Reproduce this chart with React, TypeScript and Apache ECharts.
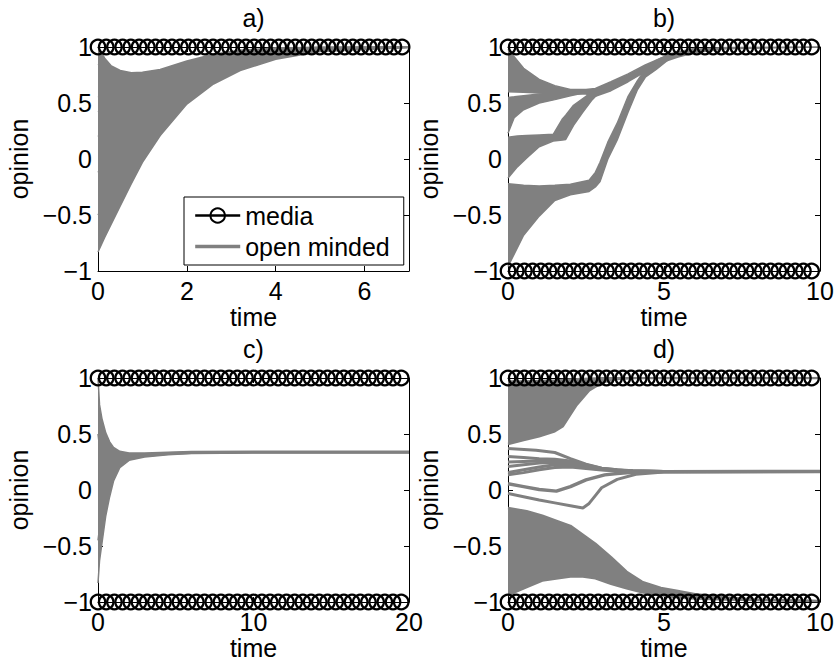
import React, { useEffect, useRef } from 'react';
import * as echarts from 'echarts';

const FONT = '"Liberation Sans", Arial, Helvetica, sans-serif';
const GRAY = '#808080';
const FS = 25;

// ---------- media sample times (circles) ----------
const mediaTimesA = [0, 0.185, 0.37, 0.555, 0.74, 0.925, 1.11, 1.295, 1.48, 1.665, 1.85, 2.035, 2.22, 2.405, 2.59, 2.775, 2.96, 3.145, 3.33, 3.515, 3.7, 3.885, 4.07, 4.255, 4.44, 4.625, 4.81, 4.995, 5.18, 5.365, 5.55, 5.735, 5.92, 6.105, 6.29, 6.475, 6.66, 6.845];
const mediaTimesB = [0, 0.263, 0.526, 0.789, 1.052, 1.315, 1.578, 1.841, 2.104, 2.367, 2.63, 2.893, 3.156, 3.419, 3.682, 3.945, 4.208, 4.471, 4.734, 4.997, 5.26, 5.523, 5.786, 6.049, 6.312, 6.575, 6.838, 7.101, 7.364, 7.627, 7.89, 8.153, 8.416, 8.679, 8.942, 9.205, 9.468, 9.731];
const mediaTimesC = [0, 0.527, 1.054, 1.581, 2.108, 2.635, 3.162, 3.689, 4.216, 4.743, 5.27, 5.797, 6.324, 6.851, 7.378, 7.905, 8.432, 8.959, 9.486, 10.013, 10.54, 11.067, 11.594, 12.121, 12.648, 13.175, 13.702, 14.229, 14.756, 15.283, 15.81, 16.337, 16.864, 17.391, 17.918, 18.445, 18.972, 19.499];
const mediaPlus = 1;
const mediaMinus = -1;

// ---------- panel a ----------
const aT = [0, 0.15, 0.3, 0.5, 0.75, 1, 1.4, 2, 2.6, 3.2, 4, 5, 7];
const aHi = [1.0, 0.9, 0.83, 0.79, 0.77, 0.775, 0.8, 0.875, 0.935, 0.97, 0.99, 0.998, 1.0];
const aLo = [-0.83, -0.7, -0.58, -0.42, -0.22, -0.03, 0.21, 0.49, 0.67, 0.79, 0.89, 0.96, 0.995];
const a085 = [0.85, 0.8, 0.77, 0.755, 0.75, 0.76, 0.79, 0.867, 0.93, 0.966, 0.988, 0.997, 1.0];
const a070 = [0.7, 0.7, 0.7, 0.71, 0.72, 0.735, 0.77, 0.856, 0.92, 0.961, 0.985, 0.996, 1.0];
const a055 = [0.55, 0.58, 0.61, 0.64, 0.66, 0.686, 0.735, 0.833, 0.906, 0.95, 0.979, 0.994, 1.0];
const a042 = [0.42, 0.46, 0.5, 0.54, 0.58, 0.62, 0.69, 0.8, 0.885, 0.936, 0.971, 0.991, 1.0];
const a020 = [0.2, 0.26, 0.32, 0.38, 0.44, 0.51, 0.605, 0.748, 0.848, 0.91, 0.957, 0.985, 0.998];
const aM012 = [-0.12, -0.03, 0.05, 0.14, 0.235, 0.34, 0.48, 0.667, 0.792, 0.873, 0.936, 0.977, 0.997];
const aM050 = [-0.5, -0.38, -0.27, -0.15, 0.008, 0.155, 0.345, 0.579, 0.731, 0.831, 0.913, 0.969, 0.996];

// ---------- panel b ----------
const bG1T = [0, 0.5, 1, 1.5, 2, 2.5, 2.8, 3.3, 3.85, 4.4, 4.9, 5.45, 6, 7, 10];
const bG1Hi = [0.98, 0.81, 0.71, 0.655, 0.62, 0.62, 0.63, 0.69, 0.76, 0.84, 0.9, 0.95, 0.98, 0.995, 1.0];
const bG1Lo = [0.6, 0.595, 0.59, 0.585, 0.58, 0.58, 0.56, 0.61, 0.69, 0.78, 0.86, 0.91, 0.95, 0.985, 1.0];
const bG2T = [0, 0.2, 0.5, 1, 1.5, 2, 2.6];
const bG2Hi = [0.55, 0.555, 0.565, 0.58, 0.59, 0.595, 0.61];
const bG2Lo = [0.23, 0.37, 0.44, 0.5, 0.53, 0.565, 0.6];
const bG3T = [0, 0.3, 0.6, 1, 1.45, 1.75, 1.85, 2.1, 2.4, 2.7, 2.95];
const bG3Hi = [0.195, 0.205, 0.21, 0.215, 0.22, 0.36, 0.39, 0.48, 0.54, 0.6, 0.62];
const bG3Lo = [-0.17, -0.07, 0.01, 0.11, 0.16, 0.17, 0.175, 0.3, 0.42, 0.53, 0.6];
const bG4T = [0, 0.5, 1, 1.5, 2, 2.6, 2.8, 2.95, 3.2, 3.5, 3.85, 4.15, 4.4, 4.75, 5.2, 6];
const bG4Hi = [-0.22, -0.235, -0.24, -0.235, -0.225, -0.19, -0.12, -0.03, 0.15, 0.32, 0.56, 0.7, 0.8, 0.88, 0.94, 0.99];
const bG4Lo = [-0.96, -0.68, -0.51, -0.37, -0.32, -0.29, -0.25, -0.2, 0.0, 0.17, 0.42, 0.62, 0.73, 0.8, 0.9, 0.98];

// ---------- panel c ----------
const cT = [0, 0.1, 0.25, 0.5, 0.75, 1, 1.4, 2, 3, 4.5, 6, 10, 20];
const cHi = [1.0, 0.76, 0.64, 0.51, 0.43, 0.38, 0.345, 0.33, 0.33, 0.338, 0.343, 0.345, 0.345];
const cLo = [-0.83, -0.63, -0.48, -0.23, -0.06, 0.08, 0.2, 0.265, 0.295, 0.315, 0.325, 0.33, 0.33];
const c050 = [0.5, 0.381, 0.334, 0.308, 0.296, 0.298, 0.305, 0.312, 0.32, 0.332, 0.338, 0.341, 0.341];
const c000 = [0.0, 0.001, 0.028, 0.106, 0.162, 0.216, 0.266, 0.295, 0.311, 0.325, 0.333, 0.337, 0.337];
const cM045 = [-0.45, -0.341, -0.247, -0.076, 0.042, 0.142, 0.23, 0.279, 0.302, 0.32, 0.329, 0.333, 0.333];

// ---------- panel d ----------
const dTopT = [0, 0.5, 1, 1.5, 1.76, 2.2, 2.6, 3.05, 3.5, 4, 10];
const dTopHi = [0.97, 0.97, 0.975, 0.98, 0.985, 0.99, 0.995, 1.0, 1.0, 1.0, 1.0];
const dTopLo = [0.41, 0.445, 0.48, 0.525, 0.57, 0.76, 0.89, 0.965, 0.99, 1.0, 1.0];
const dM1T = [0, 0.9, 1.5, 2.0, 2.5, 3.0, 3.8, 5, 10];
const dM1 = [0.37, 0.355, 0.335, 0.28, 0.23, 0.195, 0.172, 0.166, 0.165];
const dBT = [0, 0.5, 1, 1.5, 2, 2.5, 3, 3.5, 4, 5, 10];
const dB1 = [0.3, 0.29, 0.28, 0.275, 0.26, 0.225, 0.195, 0.18, 0.172, 0.166, 0.165];
const dB2 = [0.25, 0.255, 0.26, 0.26, 0.245, 0.215, 0.19, 0.177, 0.17, 0.166, 0.165];
const dB3 = [0.21, 0.225, 0.24, 0.245, 0.235, 0.21, 0.186, 0.175, 0.169, 0.166, 0.165];
const dB4 = [0.155, 0.18, 0.205, 0.225, 0.22, 0.2, 0.182, 0.173, 0.168, 0.165, 0.165];
const dB5 = [0.135, 0.155, 0.18, 0.2, 0.205, 0.192, 0.178, 0.17, 0.167, 0.165, 0.165];
const dZ1T = [0, 0.5, 1, 1.55, 2.0, 2.5, 2.83, 3.1, 3.5, 4, 5, 10];
const dZ1 = [0.055, 0.03, 0.005, -0.01, 0.03, 0.09, 0.115, 0.135, 0.148, 0.158, 0.164, 0.165];
const dZ2T = [0, 0.5, 1, 1.5, 2, 2.4, 2.6, 2.8, 3.0, 3.5, 4.1, 5, 10];
const dZ2 = [-0.03, -0.06, -0.09, -0.115, -0.14, -0.16, -0.12, -0.05, 0.02, 0.095, 0.14, 0.16, 0.165];
const dBotT = [0, 0.6, 1.1, 1.6, 2, 2.4, 2.8, 3.3, 3.8, 4.3, 4.9, 5.4, 6, 7, 8, 10];
const dBotHi = [-0.16, -0.19, -0.23, -0.28, -0.32, -0.4, -0.48, -0.6, -0.73, -0.82, -0.875, -0.9, -0.93, -0.96, -0.98, -0.99];
const dBotLo = [-0.94, -0.87, -0.81, -0.79, -0.775, -0.775, -0.79, -0.84, -0.88, -0.915, -0.94, -0.96, -0.97, -0.98, -0.985, -0.99];

// ---------- axes ----------
const xMaxes = [7, 10, 20, 10];
const xIntervals = [2, 5, 10, 5];
const yTicks = [-1, -0.5, 0, 0.5, 1];
const titles = ['a)', 'b)', 'c)', 'd)'];

const grids = [
  { left: 98, top: 47, width: 311, height: 224 },
  { left: 508, top: 47, width: 312, height: 224 },
  { left: 98, top: 378, width: 311, height: 224 },
  { left: 508, top: 378, width: 312, height: 224 },
];

const pairs = (T: number[], V: number[]) => T.map((t, i) => [t, V[i]]);

function lineS(gi: number, T: number[], V: number[], width = 1.5) {
  return {
    type: 'line', name: 'open minded', xAxisIndex: gi * 2, yAxisIndex: gi * 2,
    data: pairs(T, V), symbol: 'none', showSymbol: false,
    lineStyle: { color: GRAY, width }, itemStyle: { color: GRAY },
    silent: true, z: 3,
  };
}

function bandS(gi: number, T: number[], hi: number[], lo: number[]) {
  return {
    type: 'custom', name: 'band', xAxisIndex: gi * 2, yAxisIndex: gi * 2,
    coordinateSystem: 'cartesian2d',
    data: T.map((t, i) => [t, lo[i], hi[i]]),
    encode: { x: 0, y: [1, 2] },
    silent: true, z: 2,
    renderItem: (params: any, api: any) => {
      if (params.dataIndex !== 0) return null;
      const pts: number[][] = [];
      for (let i = 0; i < T.length; i++) pts.push(api.coord([T[i], hi[i]]));
      for (let i = T.length - 1; i >= 0; i--) pts.push(api.coord([T[i], lo[i]]));
      return { type: 'polygon', shape: { points: pts }, style: { fill: GRAY } };
    },
  };
}

function mediaS(gi: number, times: number[], level: number) {
  return {
    type: 'line', name: 'media', xAxisIndex: gi * 2, yAxisIndex: gi * 2,
    data: times.map((t) => [t, level]),
    symbol: 'circle', symbolSize: 14.5, showSymbol: true, clip: false,
    itemStyle: { color: 'rgba(0,0,0,0)', borderColor: '#000', borderWidth: 2.3 },
    lineStyle: { color: '#000', width: 2, opacity: 0 },
    silent: true, z: 4,
  };
}

function buildOption() {
  const xAxis: any[] = [];
  const yAxis: any[] = [];
  const tick = { show: true, inside: true, length: 5, lineStyle: { color: '#000', width: 1 } };
  const line = { show: true, onZero: false, lineStyle: { color: '#000', width: 1 } };
  for (let gi = 0; gi < 4; gi++) {
    xAxis.push({
      type: 'value', gridIndex: gi, position: 'bottom', min: 0, max: xMaxes[gi], interval: xIntervals[gi],
      axisLine: line, axisTick: tick, splitLine: { show: false },
      axisLabel: {
        color: '#000', fontSize: FS, fontFamily: FONT, margin: 7,
        showMaxLabel: xMaxes[gi] % xIntervals[gi] === 0,
      },
      name: 'time', nameLocation: 'middle', nameGap: 33,
      nameTextStyle: { color: '#000', fontSize: FS, fontFamily: FONT },
    });
    xAxis.push({
      type: 'value', gridIndex: gi, position: 'top', min: 0, max: xMaxes[gi], interval: xIntervals[gi],
      axisLine: line, axisTick: tick, splitLine: { show: false }, axisLabel: { show: false },
    });
    yAxis.push({
      type: 'value', gridIndex: gi, position: 'left', min: yTicks[0], max: yTicks[yTicks.length - 1], interval: 0.5,
      axisLine: line, axisTick: tick, splitLine: { show: false },
      axisLabel: {
        color: '#000', fontSize: FS, fontFamily: FONT, margin: 6,
        formatter: (v: number) => (v < 0 ? '\u2212' + String(Math.abs(v)) : String(v)),
      },
      name: 'opinion', nameLocation: 'middle', nameGap: 67, nameRotate: 90,
      nameTextStyle: { color: '#000', fontSize: FS, fontFamily: FONT },
    });
    yAxis.push({
      type: 'value', gridIndex: gi, position: 'right', min: -1, max: 1, interval: 0.5,
      axisLine: line, axisTick: tick, splitLine: { show: false }, axisLabel: { show: false },
    });
  }

  const series: any[] = [
    // panel a
    lineS(0, aT, aHi), lineS(0, aT, aLo), bandS(0, aT, aHi, aLo),
    lineS(0, aT, a085), lineS(0, aT, a070), lineS(0, aT, a055), lineS(0, aT, a042),
    lineS(0, aT, a020), lineS(0, aT, aM012), lineS(0, aT, aM050),
    // panel b
    bandS(1, bG1T, bG1Hi, bG1Lo), lineS(1, bG1T, bG1Hi), lineS(1, bG1T, bG1Lo),
    bandS(1, bG2T, bG2Hi, bG2Lo), lineS(1, bG2T, bG2Hi), lineS(1, bG2T, bG2Lo),
    bandS(1, bG3T, bG3Hi, bG3Lo), lineS(1, bG3T, bG3Hi), lineS(1, bG3T, bG3Lo),
    bandS(1, bG4T, bG4Hi, bG4Lo), lineS(1, bG4T, bG4Hi), lineS(1, bG4T, bG4Lo),
    // panel c
    bandS(2, cT, cHi, cLo), lineS(2, cT, cHi), lineS(2, cT, cLo),
    lineS(2, cT, c050), lineS(2, cT, c000), lineS(2, cT, cM045),
    // panel d
    bandS(3, dTopT, dTopHi, dTopLo), lineS(3, dTopT, dTopHi, 2), lineS(3, dTopT, dTopLo, 2.5),
    lineS(3, dM1T, dM1, 3), lineS(3, dBT, dB1, 3), lineS(3, dBT, dB2, 3), lineS(3, dBT, dB3, 3),
    lineS(3, dBT, dB4, 3), lineS(3, dBT, dB5, 3), lineS(3, dZ1T, dZ1, 3.5), lineS(3, dZ2T, dZ2, 3),
    bandS(3, dBotT, dBotHi, dBotLo), lineS(3, dBotT, dBotHi, 2.5), lineS(3, dBotT, dBotLo, 2),
    // media
    mediaS(0, mediaTimesA, mediaPlus),
    mediaS(1, mediaTimesB, mediaPlus), mediaS(1, mediaTimesB, mediaMinus),
    mediaS(2, mediaTimesC, mediaPlus), mediaS(2, mediaTimesC, mediaMinus),
    mediaS(3, mediaTimesB, mediaPlus), mediaS(3, mediaTimesB, mediaMinus),
  ];

  const graphic = titles.map((t, gi) => ({
    type: 'text',
    x: grids[gi].left + grids[gi].width / 2,
    y: grids[gi].top - 29,
    silent: true,
    style: { text: t, fontSize: FS, fontFamily: FONT, fill: '#000', align: 'center', verticalAlign: 'middle' },
  }));

  return {
    animation: false,
    backgroundColor: '#fff',
    grid: grids.map((g) => ({ ...g, containLabel: false })),
    xAxis, yAxis, series, graphic,
    legend: {
      data: [
        { name: 'media', lineStyle: { color: '#000', width: 2.4, opacity: 1 } },
        { name: 'open minded', icon: 'path://M0,0H45V3.5H0Z', itemStyle: { color: GRAY, opacity: 1 } },
      ],
      orient: 'vertical', left: 184, top: 197,
      padding: [6, 14, 6, 10], itemGap: 6, itemWidth: 45, itemHeight: 18,
      backgroundColor: '#fff', borderColor: '#000', borderWidth: 1, borderRadius: 0,
      selectedMode: false,
      textStyle: { color: '#000', fontSize: FS, fontFamily: FONT },
    },
  };
}

export default function App() {
  const ref = useRef<HTMLDivElement>(null);
  useEffect(() => {
    if (!ref.current) return;
    const chart = echarts.init(ref.current, undefined, { renderer: 'svg' });
    chart.setOption(buildOption() as any);
    return () => chart.dispose();
  }, []);
  return (
    <div
      ref={ref}
      style={{ position: 'fixed', left: 0, top: 0, width: 838, height: 667, background: '#fff' }}
    />
  );
}
